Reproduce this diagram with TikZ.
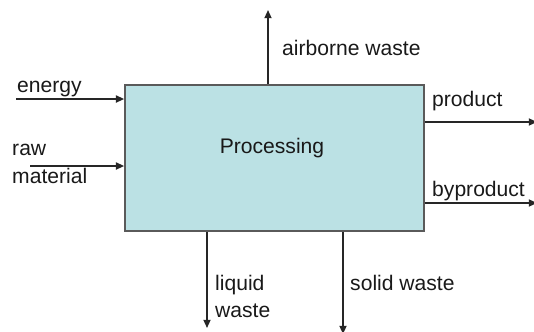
\documentclass[tikz,border=0pt]{standalone}
\usepackage{fontspec}
\setmainfont{Liberation Sans}
\usetikzlibrary{arrows.meta}

\definecolor{procfill}{RGB}{187,225,228}
\definecolor{procedge}{RGB}{90,90,90}

\tikzset{
    procbox/.style={draw=procedge, fill=procfill, line width=1.4pt,
        minimum width=8.97cm, minimum height=4.38cm, inner sep=0pt},
    flow/.style={draw=black!85, line width=1.4pt,
        -{Triangle[length=7pt, width=6pt]}},
    lbl/.style={anchor=base west, inner sep=0pt, text=black!90}
}

\begin{document}
\begin{tikzpicture}[x=0.03cm, y=-0.03cm, font=\fontsize{18}{27}\selectfont]
    \useasboundingbox (0,0) rectangle (534,331);

    % process block
    \node[procbox] (proc) at (274.5,158) {};
    \node[anchor=base, inner sep=0pt, text=black!90] (proclbl) at (272,153) {Processing};

    % inputs
    \coordinate (energyin) at (16,99);
    \coordinate (rawin) at (30,166);
    \draw[flow] (energyin) -- (energyin -| proc.west);
    \draw[flow] (rawin) -- (rawin -| proc.west);
    \node[lbl] (energy) at (17,92) {energy};
    \node[lbl] (raw) at (12,155) {raw};
    \node[lbl] (material) at (12,183) {material};

    % outputs
    \coordinate (airout) at (268,10);
    \coordinate (prodout) at (537,122);
    \coordinate (byout) at (537,203);
    \coordinate (liqout) at (207,328);
    \coordinate (solout) at (343,334);
    \draw[flow] (airout |- proc.north) -- (airout);
    \draw[flow] (prodout -| proc.east) -- (prodout);
    \draw[flow] (byout -| proc.east) -- (byout);
    \draw[flow] (liqout |- proc.south) -- (liqout);
    \draw[flow] (solout |- proc.south) -- (solout);
    \node[lbl] (airborne) at (282,55) {airborne waste};
    \node[lbl] (product) at (432,106) {product};
    \node[lbl] (byproduct) at (432,196) {byproduct};
    \node[lbl] (liquid) at (215,290) {liquid};
    \node[lbl] (liqwaste) at (215,317) {waste};
    \node[lbl] (solid) at (350,290) {solid waste};
\end{tikzpicture}
\end{document}
